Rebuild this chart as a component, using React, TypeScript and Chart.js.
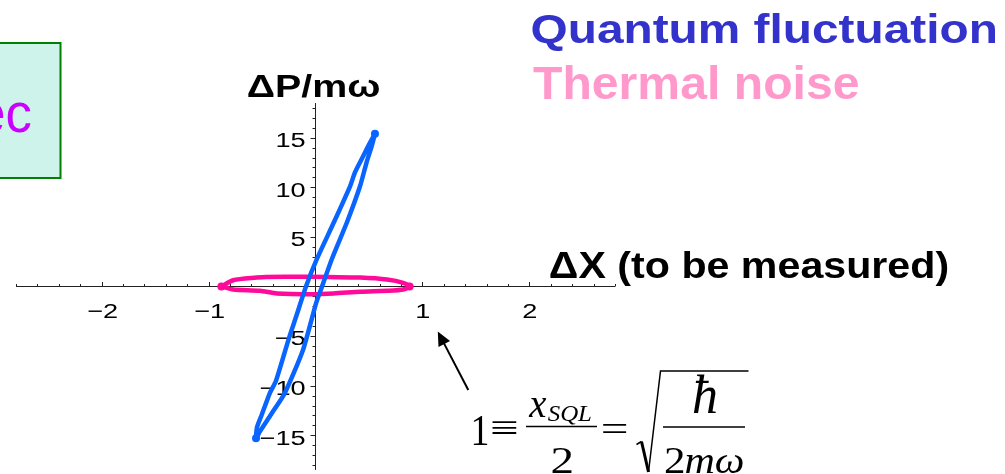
import React, { useEffect, useRef } from "react";
import { Chart, registerables } from "chart.js";

Chart.register(...registerables);

// Quantum fluctuation trajectory (thin tilted loop), read point by point
const blueX = [
  0.556, 0.524, 0.477, 0.416, 0.295, 0.154, 0.061, 0.005, -0.117, -0.285, -0.416, -0.519, -0.556,
  -0.547, -0.505, -0.425, -0.369, -0.248, -0.18, -0.089, 0.014, 0.173, 0.323, 0.369, 0.444, 0.5, 0.556,
];
const blueY = [
  15.4, 14.1, 12.5, 10.1, 6.5, 2.8, 0.0, -1.7, -6.4, -10.7, -12.9, -14.6, -15.3,
  -14.2, -13.0, -10.7, -9.5, -5.2, -3.0, 0.0, 2.8, 6.5, 10.1, 11.5, 13.1, 14.3, 15.4,
];

// Thermal noise trajectory (flat loop along the X axis)
const pinkX = [
  -0.88, -0.77, -0.55, -0.46, -0.2, 0.1, 0.42, 0.67, 0.82, 0.88,
  0.82, 0.67, 0.42, 0.17, -0.02, -0.36, -0.52, -0.77, -0.88,
];
const pinkY = [
  0.0, 0.63, 0.9, 0.97, 0.98, 0.97, 0.9, 0.7, 0.37, 0.0,
  -0.3, -0.43, -0.53, -0.7, -0.77, -0.7, -0.43, -0.3, 0.0,
];

const xTicks = [-2, -1, 1, 2];
const yTicks = [-15, -10, -5, 5, 10, 15];
const xLimits = [-2.8, 2.8];
const yLimits = [-18.5, 18.5];
const xMinorStep = 0.2;
const yMinorStep = 1;

const titleQuantum = "Quantum fluctuation";
const titleThermal = "Thermal noise";
const yAxisTitle = "\u0394P/m\u03c9";
const xAxisTitle = "\u0394X (to be measured)";
const boxText = "ec";

const SANS = 'Arial, "Liberation Sans", Helvetica, sans-serif';
const SERIF = '"Times New Roman", "Liberation Serif", Times, serif';

const BLUE = "#0a64ff";
const PINK = "#ff0a99";

const fmt = (v: number) => (v < 0 ? "\u2212" + Math.abs(v) : String(v));

function extremeIndices(arr: number[]) {
  let lo = 0;
  let hi = 0;
  arr.forEach((v, i) => {
    if (v < arr[lo]) lo = i;
    if (v > arr[hi]) hi = i;
  });
  return [lo, hi];
}

type Ink = { l: number; r: number; a: number; d: number };

function ink(ctx: CanvasRenderingContext2D, text: string, font: string): Ink {
  ctx.save();
  ctx.font = font;
  ctx.textAlign = "left";
  ctx.textBaseline = "alphabetic";
  const m = ctx.measureText(text);
  ctx.restore();
  return {
    l: -m.actualBoundingBoxLeft,
    r: m.actualBoundingBoxRight,
    a: m.actualBoundingBoxAscent,
    d: m.actualBoundingBoxDescent,
  };
}

// Draws text scaled by (sx, sy) with its ink anchored horizontally at x
function drawInk(
  ctx: CanvasRenderingContext2D,
  text: string,
  font: string,
  color: string,
  x: number,
  baseline: number,
  sx: number,
  sy: number,
  anchor: "left" | "right" | "center"
) {
  const k = ink(ctx, text, font);
  const ref = anchor === "left" ? k.l : anchor === "right" ? k.r : (k.l + k.r) / 2;
  ctx.save();
  ctx.font = font;
  ctx.fillStyle = color;
  ctx.textAlign = "left";
  ctx.textBaseline = "alphabetic";
  ctx.translate(x - ref * sx, baseline);
  ctx.scale(sx, sy);
  ctx.fillText(text, 0, 0);
  ctx.restore();
}

// Text whose ink spans x0..x1, with the tallest glyph reaching `top` above `baseline`
function drawSpan(
  ctx: CanvasRenderingContext2D,
  text: string,
  font: string,
  color: string,
  x0: number,
  x1: number,
  top: number,
  baseline: number
) {
  const k = ink(ctx, text, font);
  const sx = (x1 - x0) / (k.r - k.l);
  const sy = (baseline - top) / k.a;
  drawInk(ctx, text, font, color, x0, baseline, sx, sy, "left");
}

// Glyph(s) whose whole ink box fills the rectangle x0..x1, y0..y1
function drawBox(
  ctx: CanvasRenderingContext2D,
  text: string,
  font: string,
  color: string,
  x0: number,
  x1: number,
  y0: number,
  y1: number
) {
  const k = ink(ctx, text, font);
  const sx = (x1 - x0) / (k.r - k.l);
  const sy = (y1 - y0) / (k.a + k.d);
  drawInk(ctx, text, font, color, x0, y0 + k.a * sy, sx, sy, "left");
}

function line(ctx: CanvasRenderingContext2D, x0: number, y0: number, x1: number, y1: number) {
  ctx.beginPath();
  ctx.moveTo(x0, y0);
  ctx.lineTo(x1, y1);
  ctx.stroke();
}

const decorations = {
  id: "decorations",
  beforeDatasetsDraw(chart: any) {
    const ctx: CanvasRenderingContext2D = chart.ctx;
    const xs = chart.scales.x;
    const ys = chart.scales.y;
    const ox = Math.floor(xs.getPixelForValue(0)) + 0.5;
    const oy = Math.floor(ys.getPixelForValue(0)) + 0.5;

    ctx.save();

    // note box on the left
    ctx.fillStyle = "#cdf3ea";
    ctx.fillRect(-4, 43, 64.5, 135);
    ctx.strokeStyle = "#008000";
    ctx.lineWidth = 2;
    ctx.strokeRect(-4, 43, 64.5, 135);
    {
      const f = `56px ${SANS}`;
      const c = ink(ctx, "c", f);
      const sx = 23.5 / (c.r - c.l);
      const sy = 30 / c.a;
      drawInk(ctx, boxText, f, "#cc00ff", 30.8, 131.7, sx, sy, "right");
    }

    // axes through the origin
    ctx.strokeStyle = "#222";
    ctx.lineWidth = 1;
    line(ctx, xs.left, oy, xs.right, oy);
    line(ctx, ox, ys.top, ox, ys.bottom);

    // X ticks point upward, Y ticks point left
    const nx = Math.round(xLimits[1] / xMinorStep);
    for (let k = -nx; k <= nx; k++) {
      if (k === 0) continue;
      const v = k * xMinorStep;
      const major = xTicks.some((t) => Math.abs(t - v) < 1e-9);
      const px = Math.round(xs.getPixelForValue(v)) + 0.5;
      line(ctx, px, oy, px, oy - (major ? 4.5 : 2.5));
    }
    const ny = Math.floor(yLimits[1] / yMinorStep);
    for (let k = -ny; k <= ny; k++) {
      if (k === 0) continue;
      const v = k * yMinorStep;
      const major = yTicks.includes(v);
      const py = Math.round(ys.getPixelForValue(v)) + 0.5;
      line(ctx, ox, py, ox - (major ? 5 : 3), py);
    }

    // tick labels share one scale, sized so that "15" is 28.7 x 14.7 px of ink
    const tickFont = `20px ${SANS}`;
    const s15 = ink(ctx, "15", tickFont);
    const tsx = 28.7 / (s15.r - s15.l);
    const tsy = 14.7 / s15.a;
    xTicks.forEach((v) => {
      drawInk(ctx, fmt(v), tickFont, "#000", xs.getPixelForValue(v) + 1, oy + 31.5, tsx, tsy, "center");
    });
    yTicks.forEach((v) => {
      drawInk(ctx, fmt(v), tickFont, "#000", ox - 10, ys.getPixelForValue(v) + 9.3, tsx, tsy, "right");
    });

    // axis titles and headings
    drawSpan(ctx, yAxisTitle, `bold 30px ${SANS}`, "#000", 248, 380, 74, 96.7);
    drawSpan(ctx, xAxisTitle, `bold 36px ${SANS}`, "#000", 550, 948, 250.5, 278.3);
    drawSpan(ctx, titleQuantum, `bold 40px ${SANS}`, "#3333cc", 531.7, 995, 12.5, 43.3);
    drawSpan(ctx, titleThermal, `bold 40px ${SANS}`, "#ff99cc", 533, 858, 64, 98.5);

    ctx.restore();
  },
  afterDatasetsDraw(chart: any) {
    const ctx: CanvasRenderingContext2D = chart.ctx;
    ctx.save();

    // arrow pointing at the unit tick
    const sx = 468.3, sy = 390, tx = 437.8, ty = 331.5;
    const dx = tx - sx, dy = ty - sy;
    const len = Math.hypot(dx, dy);
    const ux = dx / len, uy = dy / len;
    const hl = 14, hw = 6.5;
    const bx = tx - ux * hl, by = ty - uy * hl;
    ctx.strokeStyle = "#000";
    ctx.fillStyle = "#000";
    ctx.lineWidth = 2;
    line(ctx, sx, sy, bx + ux * 2, by + uy * 2);
    ctx.beginPath();
    ctx.moveTo(tx, ty);
    ctx.lineTo(bx - uy * hw, by + ux * hw);
    ctx.lineTo(bx + uy * hw, by - ux * hw);
    ctx.closePath();
    ctx.fill();

    // 1 = x_SQL / 2 = sqrt(hbar / 2 m omega)
    const big = `40px ${SERIF}`;
    const bigIt = `italic 40px ${SERIF}`;
    const K = "#000";
    drawBox(ctx, "1", big, K, 473.3, 487.5, 416.7, 445);
    drawBox(ctx, "\u2261", big, K, 492.5, 516.7, 420.5, 434.5);
    ctx.lineWidth = 1.6;
    line(ctx, 526, 426.5, 597, 426.5);
    drawBox(ctx, "x", bigIt, K, 528.3, 546.7, 398.3, 417.3);
    {
      const f = `italic 22px ${SERIF}`;
      const k = ink(ctx, "SQL", f);
      const ssx = (591.7 - 547.7) / (k.r - k.l);
      const ssy = (420.7 - 406) / k.a;
      drawInk(ctx, "SQL", f, K, 547.7, 420.7, ssx, ssy, "left");
    }
    drawBox(ctx, "2", big, K, 551.7, 571.7, 448.3, 472.5);
    drawBox(ctx, "=", big, K, 603.3, 626.7, 424, 434);

    // radical sign
    ctx.lineJoin = "miter";
    ctx.lineWidth = 1.5;
    ctx.beginPath();
    ctx.moveTo(636.5, 444.5);
    ctx.lineTo(641.5, 441.5);
    ctx.stroke();
    ctx.lineWidth = 3;
    ctx.beginPath();
    ctx.moveTo(641.5, 441.5);
    ctx.lineTo(648.5, 472);
    ctx.stroke();
    ctx.lineWidth = 1.5;
    ctx.beginPath();
    ctx.moveTo(648.5, 472);
    ctx.lineTo(660.5, 371);
    ctx.lineTo(748.5, 371);
    ctx.stroke();

    drawBox(ctx, "\u0127", bigIt, K, 693.3, 716.7, 375, 413.3);
    ctx.lineWidth = 1.6;
    line(ctx, 663, 427, 745, 427);
    drawBox(ctx, "2", big, K, 665, 683.3, 448.3, 472.5);
    {
      const k = ink(ctx, "m\u03c9", bigIt);
      const msx = (743.3 - 685.5) / (k.r - k.l);
      const msy = (472.5 - 454) / k.a;
      drawInk(ctx, "m\u03c9", bigIt, K, 685.5, 472.5, msx, msy, "left");
    }

    ctx.restore();
  },
};

export default function App() {
  const ref = useRef<HTMLCanvasElement>(null);

  useEffect(() => {
    const blueTips = extremeIndices(blueY);
    const pinkTips = extremeIndices(pinkX);
    const chart = new Chart(ref.current as HTMLCanvasElement, {
      type: "scatter",
      data: {
        datasets: [
          {
            label: titleQuantum,
            data: blueX.map((x, i) => ({ x, y: blueY[i] })),
            showLine: true,
            borderColor: BLUE,
            backgroundColor: BLUE,
            borderWidth: 4.5,
            tension: 0.2,
            borderJoinStyle: "round",
            borderCapStyle: "round",
            pointRadius: (c: any) => (blueTips.includes(c.dataIndex) ? 4 : 0),
            pointBorderWidth: 0,
          },
          {
            label: titleThermal,
            data: pinkX.map((x, i) => ({ x, y: pinkY[i] })),
            showLine: true,
            borderColor: PINK,
            backgroundColor: PINK,
            borderWidth: 4.5,
            tension: 0.25,
            borderJoinStyle: "round",
            borderCapStyle: "round",
            pointRadius: (c: any) => (pinkTips.includes(c.dataIndex) ? 4 : 0),
            pointBorderWidth: 0,
          },
        ],
      },
      options: {
        responsive: false,
        maintainAspectRatio: false,
        animation: false,
        events: [],
        layout: { padding: { left: 16, right: 390, top: 103, bottom: 1 } },
        scales: {
          x: { type: "linear", min: xLimits[0], max: xLimits[1], display: false },
          y: { type: "linear", min: yLimits[0], max: yLimits[1], display: false },
        },
        plugins: {
          legend: { display: false },
          tooltip: { enabled: false },
        },
      } as any,
      plugins: [decorations],
    });

    // redraw once the installed fonts are ready for canvas use
    let alive = true;
    const fonts = (document as any).fonts;
    if (fonts && fonts.load) {
      Promise.all([
        fonts.load(`20px ${SANS}`),
        fonts.load(`bold 40px ${SANS}`),
        fonts.load(`40px ${SERIF}`),
        fonts.load(`italic 40px ${SERIF}`),
      ])
        .then(() => {
          if (alive) chart.draw();
        })
        .catch(() => {});
    }
    return () => {
      alive = false;
      chart.destroy();
    };
  }, []);

  return (
    <div
      style={{
        position: "absolute",
        left: 0,
        top: 0,
        width: 1005,
        height: 474,
        background: "#fff",
        overflow: "hidden",
      }}
    >
      <canvas ref={ref} width={1005} height={474} style={{ display: "block", width: 1005, height: 474 }} />
    </div>
  );
}
